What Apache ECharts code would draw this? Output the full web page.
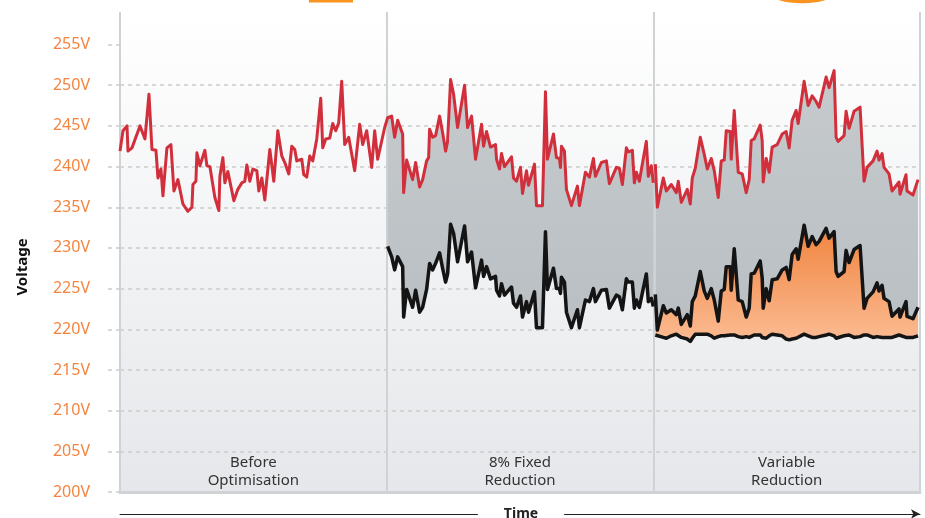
<!DOCTYPE html>
<html>
<head>
<meta charset="utf-8">
<title>Voltage optimisation</title>
<script src="https://cdn.jsdelivr.net/npm/echarts@6/dist/echarts.min.js"></script>
<style>
  html, body { margin: 0; padding: 0; background: #fff; }
  #chart { width: 925px; height: 518px; }
</style>
</head>
<body>
<div id="chart"></div>
<script>
// time is in sample units, 0..801 across the three periods (267 each)
const beforeTime = [0, 3, 7, 8, 12, 20, 25, 29, 32, 36, 38, 41, 43, 47, 51, 54, 58, 63, 68, 72,
  73, 76, 77, 80, 85, 87, 90, 95, 99, 100, 103, 105, 108, 114, 118, 122, 125, 127, 130, 133,
  137, 139, 142, 145, 150, 154, 158, 162, 165, 169, 172, 175, 177, 182, 184, 187, 190, 193, 197, 201,
  203, 206, 210, 213, 216, 219, 222, 225, 229, 235, 240, 243, 247, 249, 252, 255, 258, 265];
const beforeSupply = [241.9, 244.4, 245.0, 241.9, 242.3, 245.0, 243.4, 248.9, 242.1, 242.0, 238.6, 239.7, 236.4, 242.3, 242.7, 237.0, 238.4, 235.4, 234.5, 235.0,
  237.8, 238.2, 241.7, 240.1, 242.0, 240.1, 240.0, 236.2, 234.6, 238.8, 241.1, 238.0, 239.4, 235.8, 237.2, 238.0, 238.2, 240.2, 238.2, 239.7,
  239.5, 237.0, 238.6, 235.9, 242.1, 238.2, 244.4, 241.3, 240.5, 239.1, 242.5, 242.1, 240.7, 240.9, 239.0, 238.7, 241.3, 240.7, 243.4, 248.4,
  242.3, 243.4, 243.5, 245.3, 244.4, 245.4, 250.5, 242.7, 243.6, 239.5, 245.2, 242.7, 244.4, 244.5, 239.9, 244.4, 240.9, 244.8];

const fixedTime = [268, 272, 275, 278, 283, 284, 287, 293, 296, 300, 303, 307, 309, 310, 313, 316, 320, 323, 326, 328,
  330, 331, 334, 338, 345, 348, 352, 356, 362, 364, 367, 371, 376, 377, 380, 382, 385, 392, 394, 397,
  401, 403, 407, 409, 415, 417, 423, 426, 428, 434, 437, 440, 441, 442, 445, 447, 452, 458, 460, 466,
  470, 474, 476, 482, 487, 490, 497, 500, 503, 507, 509, 513, 515, 517, 520, 527, 529, 532, 534];
const fixedSupply = [246.0, 246.2, 243.6, 245.7, 244.0, 236.8, 240.8, 238.4, 240.5, 237.5, 238.4, 240.7, 241.1, 244.6, 243.6, 243.8, 246.2, 244.2, 241.9, 243.1,
  243.2, 250.7, 248.9, 244.8, 250.0, 244.8, 246.2, 240.9, 245.2, 242.5, 244.3, 242.4, 242.7, 240.9, 239.7, 241.6, 240.0, 241.2, 238.6, 238.2,
  239.9, 236.7, 239.5, 237.7, 240.3, 235.2, 235.2, 249.2, 240.9, 244.0, 241.1, 241.0, 239.9, 242.5, 241.9, 237.2, 235.2, 237.6, 235.2, 239.3,
  238.7, 241.0, 238.8, 240.5, 240.7, 237.9, 239.9, 239.8, 237.8, 242.3, 241.8, 242.0, 238.0, 239.3, 238.2, 243.1, 238.8, 240.1, 238.0];
const fixedOptimised = [230.2, 228.9, 227.3, 228.9, 227.7, 221.5, 224.9, 222.7, 224.8, 222.1, 222.7, 224.9, 225.0, 228.1, 227.3, 228.1, 229.4, 227.5, 225.8, 226.8,
  226.8, 232.9, 231.8, 228.3, 232.7, 228.3, 229.5, 225.1, 228.5, 226.5, 227.7, 226.2, 226.5, 224.8, 224.1, 225.6, 224.2, 225.2, 223.2, 222.7,
  224.1, 221.5, 223.4, 222.1, 224.6, 220.2, 220.2, 232.0, 224.9, 227.5, 225.0, 225.0, 224.4, 226.4, 225.8, 222.1, 220.2, 222.4, 220.2, 223.6,
  223.4, 225.0, 223.4, 224.8, 224.9, 222.6, 224.2, 224.0, 222.4, 226.2, 225.8, 225.8, 222.6, 223.6, 222.7, 226.8, 223.4, 223.8, 222.8];

const variableTime = [536, 538, 544, 547, 552, 557, 559, 562, 568, 571, 573, 576, 581, 585, 588, 592, 595, 599, 602, 605,
  607, 611, 612, 615, 619, 623, 627, 630, 632, 635, 641, 643, 644, 647, 650, 653, 658, 663, 667, 670,
  673, 677, 679, 685, 689, 693, 697, 700, 707, 710, 715, 717, 719, 725, 727, 730, 735, 741, 745, 748,
  754, 758, 760, 763, 765, 770, 773, 780, 781, 787, 788, 794, 799];
const variableSupply = [240.3, 235.0, 238.6, 237.0, 237.8, 236.8, 238.2, 235.6, 237.2, 235.4, 238.6, 239.8, 243.6, 241.5, 239.7, 241.0, 239.5, 236.2, 240.7, 240.8,
  244.4, 244.3, 240.9, 246.9, 239.3, 239.1, 236.8, 238.4, 243.2, 243.4, 245.1, 243.2, 238.1, 241.0, 239.3, 242.4, 242.7, 244.0, 244.3, 242.3,
  245.7, 246.9, 245.3, 250.5, 247.5, 248.7, 248.0, 247.3, 251.0, 249.7, 251.8, 243.6, 243.1, 243.8, 246.8, 244.7, 246.8, 247.3, 238.2, 239.9,
  240.7, 241.9, 240.8, 241.6, 239.9, 239.1, 237.0, 238.1, 236.6, 239.0, 237.0, 236.5, 238.4];
const variableOptimised = [224.3, 219.9, 222.9, 222.0, 222.4, 221.8, 222.6, 220.6, 221.8, 220.4, 223.4, 224.1, 227.1, 224.7, 223.8, 225.0, 223.6, 221.0, 224.7, 224.9,
  227.7, 227.7, 224.8, 229.9, 223.6, 223.4, 221.5, 222.6, 226.8, 226.9, 228.4, 226.3, 222.6, 225.0, 223.5, 226.1, 226.2, 227.3, 227.6, 226.1,
  229.2, 229.9, 228.6, 232.8, 230.2, 231.4, 230.4, 230.8, 232.4, 231.2, 232.0, 227.1, 226.5, 227.1, 229.7, 228.2, 229.8, 230.3, 222.6, 223.8,
  224.6, 225.7, 224.7, 225.4, 223.8, 223.4, 221.6, 222.5, 221.5, 223.4, 221.6, 221.3, 222.7];
const variableFloor = [219.3, 219.1, 219.0, 218.9, 219.2, 219.4, 219.3, 219.0, 218.8, 218.5, 218.9, 219.4, 219.4, 219.4, 219.4, 219.2, 218.9, 219.1, 219.2, 219.2,
  219.1, 219.3, 219.3, 219.3, 219.1, 219.0, 219.1, 219.0, 219.2, 219.3, 219.3, 219.0, 219.0, 218.9, 219.2, 219.4, 219.3, 219.2, 218.8, 218.7,
  218.8, 218.9, 219.0, 219.4, 219.2, 219.0, 219.0, 219.1, 219.3, 219.4, 219.2, 218.9, 218.9, 219.2, 219.4, 219.3, 219.0, 219.1, 219.3, 219.3,
  219.0, 219.1, 218.9, 219.0, 219.2, 219.0, 219.0, 219.3, 219.2, 219.0, 219.1, 219.0, 219.2];

const voltageTicks = [200, 205, 210, 215, 220, 225, 230, 235, 240, 245, 250, 255];
const sectionNames = ['Before\nOptimisation', '8% Fixed\nReduction', 'Variable\nReduction'];

const FONT = '"Noto Sans", sans-serif';
const RED = '#d12f3b';
const BLACK = '#141414';

function pairs (times, values) {
  return times.map((t, i) => [t, values[i]]);
}

// filled band between two lines, drawn as one polygon through the axes
function band (times, upper, lower, fill) {
  return {
    type: 'custom',
    silent: true,
    z: 1,
    data: times.map((t, i) => [t, upper[i], lower[i]]),
    encode: { x: 0, y: [1, 2] },
    renderItem: function (params, api) {
      if (params.dataIndex !== 0) return null;
      const top = times.map((t, i) => api.coord([t, upper[i]]));
      const bottom = times.map((t, i) => api.coord([t, lower[i]])).reverse();
      return { type: 'polygon', shape: { points: top.concat(bottom) }, style: { fill: fill } };
    }
  };
}

function line (times, values, color, width) {
  return {
    type: 'line',
    data: pairs(times, values),
    symbol: 'none',
    silent: true,
    z: 3,
    lineStyle: { color: color, width: width, join: 'round' }
  };
}

const grayFill = new echarts.graphic.LinearGradient(0, 0, 0, 1, [
  { offset: 0, color: '#c6cacd' },
  { offset: 1, color: '#b9bfc3' }
]);
const orangeFill = new echarts.graphic.LinearGradient(0, 0, 0, 1, [
  { offset: 0, color: '#f0843f' },
  { offset: 1, color: '#fbbb92' }
]);

const chart = echarts.init(document.getElementById('chart'), null, { renderer: 'canvas' });

chart.setOption({
  animation: false,
  backgroundColor: '#fff',
  grid: {
    left: 120, right: 5, top: 12, bottom: 26,
    outerBoundsMode: 'none',
    containLabel: false,
    show: true,
    borderWidth: 0,
    backgroundColor: new echarts.graphic.LinearGradient(0, 0, 0, 1, [
      { offset: 0, color: '#ffffff' },
      { offset: 1, color: '#e5e7ea' }
    ])
  },
  xAxis: [
    {
      type: 'value', min: 0, max: 801, interval: 267,
      axisLine: { show: true, lineStyle: { color: '#cfd3d6', width: 3 } },
      axisTick: { show: false },
      axisLabel: { show: false },
      splitLine: { show: true, lineStyle: { color: '#d0d3d6', width: 2, type: 'solid' } }
    },
    {
      type: 'category', data: sectionNames, position: 'bottom',
      axisLine: { show: false },
      axisTick: { show: false },
      splitLine: { show: false },
      axisLabel: {
        inside: true, margin: 2, color: '#333',
        fontFamily: FONT, fontSize: 15, lineHeight: 18, align: 'center'
      }
    },
    {
      type: 'value', min: 0, max: 1, position: 'bottom', offset: 22,
      axisTick: { show: false },
      axisLabel: { show: false },
      splitLine: { show: false },
      axisLine: {
        show: true, symbol: ['none', 'arrow'], symbolSize: [7, 9],
        lineStyle: { color: '#222', width: 1 }
      }
    }
  ],
  yAxis: {
    type: 'value', min: 200, max: 259, interval: 5,
    axisLine: { show: false },
    axisTick: {
      show: true, length: 15, customValues: voltageTicks,
      lineStyle: { color: '#cccccc', width: 1.5, type: [4, 4] }
    },
    axisLabel: {
      margin: 30, color: '#f5843f', fontFamily: FONT, fontSize: 16,
      customValues: voltageTicks,
      formatter: v => (v % 5 === 0 ? v + 'V' : '')
    },
    splitLine: {
      show: true, showMinLine: false, showMaxLine: false,
      lineStyle: { color: '#cccccc', width: 1.5, type: [4, 4] }
    }
  },
  graphic: [
    { type: 'rect', shape: { x: 309, y: 0, width: 44, height: 2.5 }, style: { fill: '#f7931e' } },
    { type: 'circle', x: 802, y: -6, scaleY: 0.3, shape: { cx: 0, cy: 0, r: 31 }, style: { fill: '#f7931e' } },
    {
      type: 'text', x: 23, y: 267, rotation: Math.PI / 2,
      style: { text: 'Voltage', font: 'bold 15px "Noto Sans"', fill: '#111', align: 'center', verticalAlign: 'middle' }
    },
    {
      type: 'text', x: 521, y: 514, z: 100,
      style: {
        text: 'Time', font: 'bold 14px "Noto Sans"', fill: '#222', align: 'center', verticalAlign: 'middle',
        backgroundColor: '#fff', padding: [2, 26]
      }
    }
  ],
  series: [
    band(fixedTime, fixedSupply, fixedOptimised, grayFill),
    band(variableTime, variableSupply, variableOptimised, grayFill),
    band(variableTime, variableOptimised, variableFloor, orangeFill),
    line(beforeTime.concat(fixedTime), beforeSupply.concat(fixedSupply), RED, 3),
    line(variableTime, variableSupply, RED, 3),
    line(fixedTime, fixedOptimised, BLACK, 3.5),
    line(variableTime, variableOptimised, BLACK, 3.5),
    line(variableTime, variableFloor, BLACK, 3.5)
  ]
});
</script>
</body>
</html>
